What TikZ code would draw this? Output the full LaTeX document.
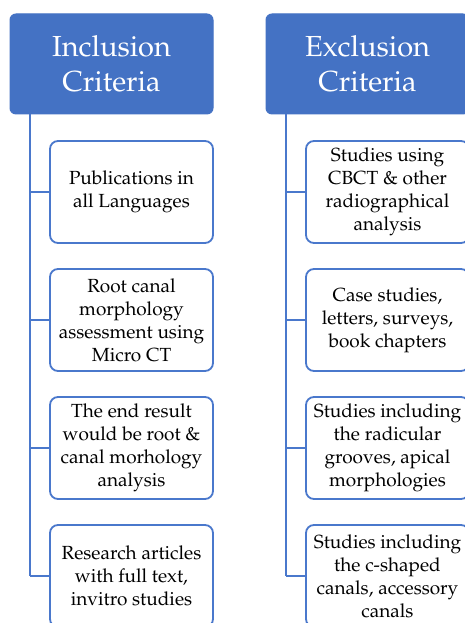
\documentclass[tikz,border=0pt]{standalone}
\usepackage[T1]{fontenc}
\usepackage{mathpazo}
\definecolor{hdrblue}{HTML}{4472C4}
\definecolor{edgeblue}{HTML}{4A78CC}
\tikzset{
  header/.style={draw=hdrblue, fill=hdrblue, rounded corners=6pt, line width=1pt,
    minimum width=203pt, minimum height=100pt, text=white, align=center,
    font=\fontsize{29}{35}\selectfont, inner sep=0pt},
  item/.style={draw=edgeblue, fill=white, rounded corners=8pt, line width=1.8pt,
    minimum width=163pt, minimum height=102pt, align=center,
    font=\fontsize{19}{23}\selectfont, inner sep=0pt},
  link/.style={draw=edgeblue, line width=1.8pt}
}
\begin{document}
\begin{tikzpicture}[x=1pt,y=1pt]
\useasboundingbox (0,0) rectangle (465,623);
\clip (0,0) rectangle (465,623);
\fill[white] (0,0) rectangle (465,623);
% headers
\node[header] (hL) at (111.5,559) {Inclusion\\Criteria};
\node[header] (hR) at (367.5,559) {Exclusion\\Criteria};
% left items
\node[item] (l1) at (131.5,431) {Publications in\\all Languages};
\node[item] (l2) at (131.5,303) {Root canal\\morphology\\assessment using\\Micro CT};
\node[item] (l3) at (131.5,175) {The end result\\would be root \&\\canal morhology\\analysis};
\node[item] (l4) at (131.5,47) {Research articles\\with full text,\\invitro studies};
% right items
\node[item] (r1) at (387.5,431) {Studies using\\CBCT \& other\\radiographical\\analysis};
\node[item] (r2) at (387.5,303) {Case studies,\\letters, surveys,\\book chapters};
\node[item] (r3) at (387.5,175) {Studies including\\the radicular\\grooves, apical\\morphologies};
\node[item] (r4) at (387.5,47) {Studies including\\the c-shaped\\canals, accessory\\canals};
% trunks
\coordinate (tL) at (30,509);
\coordinate (tR) at (286,509);
\draw[link] (tL) -- (tL |- l4.west);
\draw[link] (tR) -- (tR |- r4.west);
\foreach \n in {l1,l2,l3,l4}{\draw[link] (tL |- \n.west) -- (\n.west);}
\foreach \n in {r1,r2,r3,r4}{\draw[link] (tR |- \n.west) -- (\n.west);}
\end{tikzpicture}
\end{document}
